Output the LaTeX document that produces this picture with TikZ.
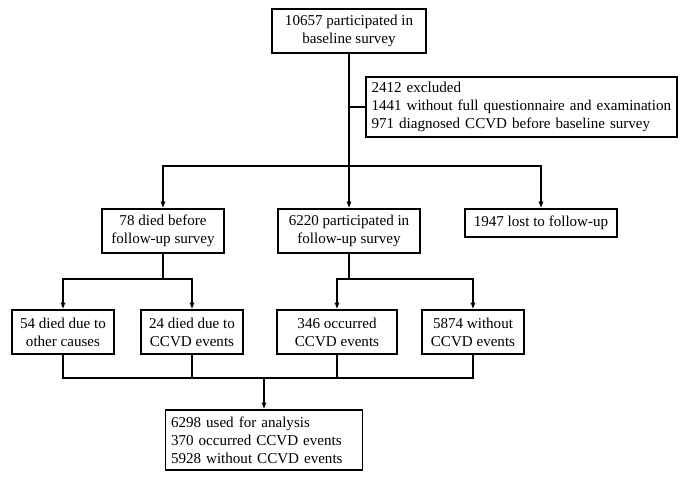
\documentclass[tikz,border=0pt]{standalone}
\usepackage{fontspec}
\setmainfont{Liberation Serif}
\usetikzlibrary{arrows.meta}

\tikzset{
  flowbox/.style={draw, line width=1.1pt, align=center, inner sep=0.75pt, font=\fontsize{11.3}{13.5}\selectfont},
  flowline/.style={line width=1.1pt},
  flowarrow/.style={line width=1.1pt, -{Latex[length=5pt,width=4pt]}}
}

\begin{document}
\begin{tikzpicture}[x=0.75pt,y=0.75pt,yscale=-1,xscale=1]
\useasboundingbox (0,0) rectangle (685,483);

% Boxes
\node [flowbox, minimum width=154*0.75pt, minimum height=44*0.75pt] (base) at (349,31) {10657 participated in\\baseline survey};
\node [flowbox, align=left, text width=300*0.75pt, minimum height=60*0.75pt, inner xsep=4pt] (excl) at (521.5,107) {2412 excluded\\1441 without full questionnaire and examination\\971 diagnosed CCVD before baseline survey};
\node [flowbox, minimum width=122*0.75pt, minimum height=44*0.75pt] (died) at (163,231) {78 died before\\follow-up survey};
\node [flowbox, minimum width=142*0.75pt, minimum height=44*0.75pt] (follow) at (349,231) {6220 participated in\\follow-up survey};
\node [flowbox, minimum width=152*0.75pt, minimum height=28*0.75pt] (lost) at (541,223) {1947 lost to follow-up};
\node [flowbox, minimum width=102*0.75pt, minimum height=44*0.75pt] (other) at (63,332) {54 died due to\\other causes};
\node [flowbox, minimum width=102*0.75pt, minimum height=44*0.75pt] (diedccvd) at (192,332) {24 died due to\\CCVD events};
\node [flowbox, minimum width=120*0.75pt, minimum height=44*0.75pt] (occurred) at (337,332) {346 occurred\\CCVD events};
\node [flowbox, minimum width=102*0.75pt, minimum height=44*0.75pt] (without) at (473,332) {5874 without\\CCVD events};
\node [flowbox, align=left, text width=186*0.75pt, minimum height=60*0.75pt, inner xsep=4pt] (analysis) at (264,440) {6298 used for analysis\\370 occurred CCVD events\\5928 without CCVD events};

% Split points
\coordinate (split) at (349,166);
\coordinate (splitdied) at (163,279);
\coordinate (splitfollow) at (349,279);
\coordinate (join) at (264,378);

% Connectors
\draw [flowline] (base) -- (split);
\draw [flowline] (excl.west) -- (excl.west -| base);
\draw [flowarrow] (split) -| (died);
\draw [flowarrow] (split) -- (follow);
\draw [flowarrow] (split) -| (lost);
\draw [flowline] (died) -- (splitdied);
\draw [flowarrow] (splitdied) -| (other);
\draw [flowarrow] (splitdied) -| (diedccvd);
\draw [flowline] (follow) -- (splitfollow);
\draw [flowarrow] (splitfollow) -| (occurred);
\draw [flowarrow] (splitfollow) -| (without);
\draw [flowline] (other) |- (join);
\draw [flowline] (diedccvd) |- (join);
\draw [flowline] (occurred) |- (join);
\draw [flowline] (without) |- (join);
\draw [flowarrow] (join) -- (analysis);

\end{tikzpicture}
\end{document}
